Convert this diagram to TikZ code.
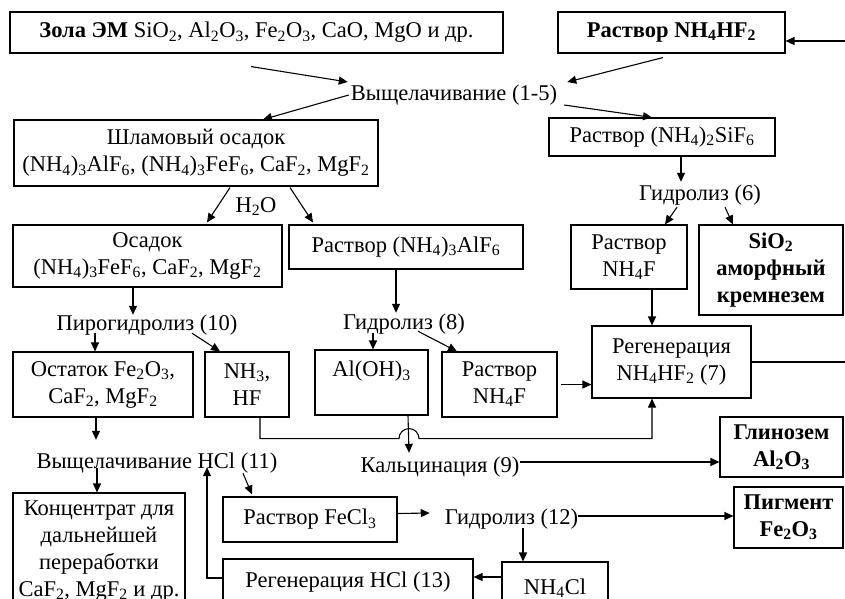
\documentclass[tikz,border=0pt]{standalone}
\usepackage{fontspec}
\setmainfont{Liberation Serif}
\usetikzlibrary{arrows.meta}
\newcommand{\dn}[1]{\textsubscript{#1}}

\begin{document}
\begin{tikzpicture}[x=1pt,y=-1pt,
    font=\fontsize{22.5}{27}\selectfont,
    box/.style={draw,line width=1.1pt,align=center,inner sep=0pt},
    boldbox/.style={box,font=\fontsize{22.5}{27}\selectfont\bfseries},
    lbl/.style={inner sep=0pt,text height=15pt,text depth=5pt,anchor=base},
    arr/.style={line width=1.1pt,-{Triangle[length=9pt,width=8pt]}}]
    \useasboundingbox (0,0) rectangle (845,598);
    % top row
    \node[box,minimum width=493,minimum height=41] (zola) at (256.5,32.5) {\textbf{Зола ЭМ} SiO\dn2, Al\dn2O\dn3, Fe\dn2O\dn3, CaO, MgO и др.};
    \node[boldbox,minimum width=227,minimum height=41] (nh4hf2) at (671.5,32.5) {Раствор NH\dn4HF\dn2};
    \node[lbl] (leach) at (454,100) {Выщелачивание (1-5)};
    \node[box,minimum width=364,minimum height=66] (shlam) at (196,153) {Шламовый осадок\\(NH\dn4)\dn3AlF\dn6, (NH\dn4)\dn3FeF\dn6, CaF\dn2, MgF\dn2};
    \node[box,minimum width=226,minimum height=38] (sif6) at (662,137) {Раствор (NH\dn4)\dn2SiF\dn6};
    \node[lbl] (h2o) at (256,212) {H\dn2O};
    \node[lbl] (hydro6) at (700,200) {Гидролиз (6)};
    % second row
    \node[box,minimum width=269,minimum height=62] (osadok) at (147.5,256) {Осадок\\(NH\dn4)\dn3FeF\dn6, CaF\dn2, MgF\dn2};
    \node[box,minimum width=234,minimum height=44] (alf6) at (406,247) {Раствор (NH\dn4)\dn3AlF\dn6};
    \node[box,minimum width=116,minimum height=64] (nh4f1) at (629,257) {Раствор\\NH\dn4F};
    \node[boldbox,minimum width=144,minimum height=90] (sio2) at (771,270) {SiO\dn2\\аморфный\\кремнезем};
    \node[lbl] (pyro) at (147,330) {Пирогидролиз (10)};
    \node[lbl] (hydro8) at (404,329) {Гидролиз (8)};
    % third row
    \node[box,minimum width=180,minimum height=65] (ostatok) at (103,384.5) {Остаток Fe\dn2O\dn3,\\CaF\dn2, MgF\dn2};
    \node[box,minimum width=84,minimum height=65] (nh3) at (247,384.5) {NH\dn3,\\HF};
    \node[box,minimum width=113,minimum height=65] (aloh) at (371.5,382.5) {Al(OH)\dn3\\\mbox{}};
    \node[box,minimum width=115,minimum height=65] (nh4f2) at (499.5,384.5) {Раствор\\NH\dn4F};
    \node[box,minimum width=159,minimum height=72] (regen) at (671.5,362) {Регенерация\\NH\dn4HF\dn2 (7)};
    \node[lbl] (kalc) at (440,472) {Кальцинация (9)};
    \node[boldbox,minimum width=123,minimum height=60] (glinozem) at (781.5,447) {Глинозем\\Al\dn2O\dn3};
    \node[lbl] (leachhcl) at (157,468) {Выщелачивание HCl (11)};
    % bottom rows
    \node[box,minimum width=172,minimum height=116] (konc) at (99,551) {Концентрат для\\дальнейшей\\переработки\\CaF\dn2, MgF\dn2 и др.};
    \node[box,minimum width=174,minimum height=45] (fecl3) at (310,519.5) {Раствор FeCl\dn3};
    \node[lbl] (hydro12) at (511.5,524) {Гидролиз (12)};
    \node[boldbox,minimum width=109,minimum height=61] (pigment) at (788.5,517.5) {Пигмент\\Fe\dn2O\dn3};
    \node[box,minimum width=106,minimum height=52] (nh4cl) at (555,588) {NH\dn4Cl};
    \node[box,minimum width=250,minimum height=46] (regenhcl) at (348,582) {Регенерация HCl (13)};
    \coordinate (back) at (853,41);

    \draw[arr] ([shift={(-5.5,13)}]zola.south) -- ([shift={(-3,-13)}]leach.west);
    \draw[arr] ([shift={(-8.5,4)}]nh4hf2.south) -- ([shift={(10,-13)}]leach.east);
    \draw[arr] ([shift={(-2,0)}]leach.west) -- ([shift={(67,0)}]shlam.north);
    \draw[arr] ([shift={(7,10)}]leach.east) -- ([shift={(-10,0)}]sif6.north);
    \draw[arr] ([shift={(34,1)}]shlam.south) -- ([shift={(59.5,-2)}]osadok.north);
    \draw[arr] ([shift={(94,1)}]shlam.south) -- ([shift={(-93,-2)}]alf6.north);
    \draw[arr] ([shift={(19,0)}]sif6.south) -- ([shift={(-19,-3)}]hydro6.north);
    \draw[arr] ([shift={(-23,2)}]hydro6.south) -- ([shift={(36,0)}]nh4f1.north);
    \draw[arr] ([shift={(25,2)}]hydro6.south) -- ([shift={(-38,0)}]sio2.north);
    \draw[arr] ([shift={(23,0)}]nh4f1.south) -- ([shift={(-19.5,0)}]regen.north);
    \draw[arr] ([shift={(-14.5,0)}]osadok.south) -- ([shift={(-14,0)}]pyro.north);
    \draw[arr] ([shift={(-52,-2)}]pyro.south) -- ([shift={(-8,0)}]ostatok.north);
    \draw[arr] ([shift={(45,-2)}]pyro.south) -- ([shift={(-27,0)}]nh3.north);
    \draw[arr] ([shift={(-10,0)}]alf6.south) -- ([shift={(-8,-1)}]hydro8.north);
    \draw[arr] ([shift={(-31,-1)}]hydro8.south) -- ([shift={(1.5,0)}]aloh.north);
    \draw[arr] ([shift={(14,-3)}]hydro8.south) -- ([shift={(-42.5,0)}]nh4f2.north);
    \draw[arr] ([shift={(3,0)}]nh4f2.east) -- (nh4f2.east -| regen.west);
    \draw[arr] (regen.east) -| (back) -- (back -| nh4hf2.east); % loop back
    \draw[arr] ([shift={(36.5,0)}]aloh.south) -- ([shift={(-31,-4)}]kalc.north);
    \draw[arr] ([shift={(13,0)}]nh3.south) |- ([shift={(27.5,23)}]aloh.south)
        arc[start angle=180,end angle=360,radius=10] -| ([shift={(-19.5,0)}]regen.south); % jump
    \draw[arr] ([shift={(0,-5)}]kalc.east) -- ([shift={(0,15)}]glinozem.west);
    \draw[arr] ([shift={(-7,0)}]ostatok.south) -- ([shift={(-61,-13)}]leachhcl.north);
    \draw[arr] ([shift={(-60,-5)}]leachhcl.south) -- ([shift={(-2,0)}]konc.north);
    \draw[arr] ([shift={(86,0)}]leachhcl.south) -- ([shift={(-58,-2)}]fecl3.north);
    \draw[arr] ([shift={(0,-6)}]fecl3.east) -- ([shift={(-15,-6)}]hydro12.west);
    \draw[arr] ([shift={(0,-3)}]hydro12.east) -- ([shift={(0,-1.5)}]pigment.west);
    \draw[arr] ([shift={(11.5,-1)}]hydro12.south) -- ([shift={(-32,0)}]nh4cl.north);
    \draw[arr] ([shift={(0,-11)}]nh4cl.west) -- ([shift={(0,-5)}]regenhcl.east);
    \draw[arr] ([shift={(0,-4)}]regenhcl.west) -| ([shift={(50,-6)}]leachhcl.south);
\end{tikzpicture}
\end{document}
